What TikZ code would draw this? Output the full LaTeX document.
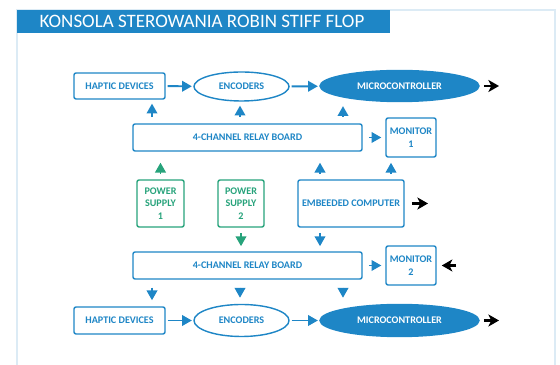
\documentclass[tikz,border=0pt]{standalone}
\usepackage{fontspec}
\setmainfont{Carlito}
\usetikzlibrary{arrows.meta, shapes.geometric}
\definecolor{cblue}{HTML}{1E86C6}
\definecolor{cgreen}{HTML}{27A37B}
\definecolor{cframe}{HTML}{DCEBF5}
\tikzset{
  every picture/.style={line width=1pt},
  box/.style={draw=#1, text=#1, fill=white, rectangle, rounded corners=1.5pt, align=center,
    inner sep=1pt, font=\fontsize{7.2}{8.8}\selectfont\bfseries},
  box/.default=cblue,
  oval/.style={box, ellipse, minimum width=2.375cm, minimum height=0.725cm},
  arrow/.style={-{Triangle[length=7pt, width=7.5pt]}, draw=#1, line width=1.4pt},
  arrow/.default=cblue,
  outarrow/.style={-{Stealth[length=7.5pt, width=8.5pt, inset=2pt]}, draw=black, line width=1.6pt},
}
\begin{document}
\begin{tikzpicture}[x=0.025cm, y=-0.025cm]
  \useasboundingbox (0,0) rectangle (560,365);
  % frame and title
  \draw[cframe, line width=1.2pt] (17,365) -- (17,10) -- (555,10) -- (555,365);
  \fill[cblue] (17,10) rectangle (390,33);
  \node[anchor=west, text=white, inner sep=0pt, font=\fontsize{13.5}{16}\selectfont] (title) at (39,21.5)
    {KONSOLA STEROWANIA ROBIN STIFF FLOP};
  % x positions of the vertical arrows
  \coordinate (u1) at (152,0);
  \coordinate (u2) at (240,0);
  \coordinate (u3) at (343,0);
  \coordinate (u4) at (320,0);
  \coordinate (u5) at (391,0);
  % top row
  \node[box, minimum width=2.275cm, minimum height=0.65cm] (hapA) at (119.5,86) {HAPTIC DEVICES};
  \node[oval] (encA) at (241.5,86.5) {ENCODERS};
  \node[oval, fill=cblue, text=white, minimum width=3.975cm, minimum height=0.775cm] (micA) at (399.5,86) {MICROCONTROLLER};
  \coordinate (outA) at (499,86);
  % relay board 1
  \node[box, minimum width=5.725cm, minimum height=0.675cm] (relA) at (247.5,137.5) {4-CHANNEL RELAY BOARD};
  \node[box, minimum width=1.25cm, minimum height=0.975cm] (monA) at (411,137.5) {MONITOR\\1};
  % middle row
  \node[box=cgreen, minimum width=1.175cm, minimum height=1.175cm] (pwA) at (160.5,203.5) {POWER\\SUPPLY\\1};
  \node[box=cgreen, minimum width=1.15cm, minimum height=1.175cm] (pwB) at (241,203.5) {POWER\\SUPPLY\\2};
  \node[box, minimum width=2.65cm, minimum height=1.175cm] (emb) at (351,203.5) {EMBEEDED COMPUTER};
  \coordinate (outB) at (428,203.5);
  % relay board 2
  \node[box, minimum width=5.725cm, minimum height=0.675cm] (relB) at (247.5,265.5) {4-CHANNEL RELAY BOARD};
  \node[box, minimum width=1.25cm, minimum height=0.975cm] (monB) at (411,265.5) {MONITOR\\2};
  \coordinate (inB) at (456,265.5);
  % bottom row
  \node[box, minimum width=2.275cm, minimum height=0.675cm] (hapB) at (119.5,320.5) {HAPTIC DEVICES};
  \node[oval, minimum height=0.8cm] (encB) at (241.5,320.5) {ENCODERS};
  \node[oval, fill=cblue, text=white, minimum width=3.975cm, minimum height=0.8cm] (micB) at (399.5,320.5) {MICROCONTROLLER};
  \coordinate (outC) at (499,320.5);

  % connectors
  \draw[arrow, shorten <=1.4pt, shorten >=1pt] (hapA) -- (encA);
  \draw[arrow, shorten <=1.4pt, shorten >=1pt] (encA) -- (micA);
  \draw[arrow, shorten <=1.4pt, shorten >=1pt] (hapB) -- (encB);
  \draw[arrow, shorten <=1.4pt, shorten >=1pt] (encB) -- (micB);
  \draw[outarrow, shorten <=3pt] (micA) -- (outA);
  \draw[outarrow, shorten <=3pt] (micB) -- (outC);
  \foreach \u/\n in {u1/hapA, u2/encA, u3/micA}
    \draw[arrow, shorten <=4.3pt, shorten >=2.8pt] (relA.north -| \u) -- (\n.south -| \u);
  \foreach \u/\n in {u1/hapB, u2/encB, u3/micB}
    \draw[arrow, shorten <=5.7pt, shorten >=4.3pt] (relB.south -| \u) -- (\n.north -| \u);
  \draw[arrow, shorten <=4.3pt, shorten >=2.8pt] (relA) -- (monA);
  \draw[arrow, shorten <=4.3pt, shorten >=2.8pt] (relB) -- (monB);
  \draw[arrow=cgreen, shorten <=3.6pt, shorten >=7.8pt] (pwA.north) -- (relA.south -| pwA);
  \draw[arrow=cgreen, shorten <=3.6pt, shorten >=3.6pt] (pwB.south) -- (relB.north -| pwB);
  \draw[arrow, shorten <=3.6pt, shorten >=7.8pt] (emb.north -| u4) -- (relA.south -| u4);
  \draw[arrow, shorten <=3.6pt, shorten >=3.6pt] (emb.north -| u5) -- (monA.south -| u5);
  \draw[arrow, shorten <=3.6pt, shorten >=3.6pt] (emb.south -| u4) -- (relB.north -| u4);
  \draw[outarrow, shorten <=5pt] (emb) -- (outB);
  \draw[outarrow, shorten >=3.6pt] (inB) -- (monB);
\end{tikzpicture}
\end{document}
